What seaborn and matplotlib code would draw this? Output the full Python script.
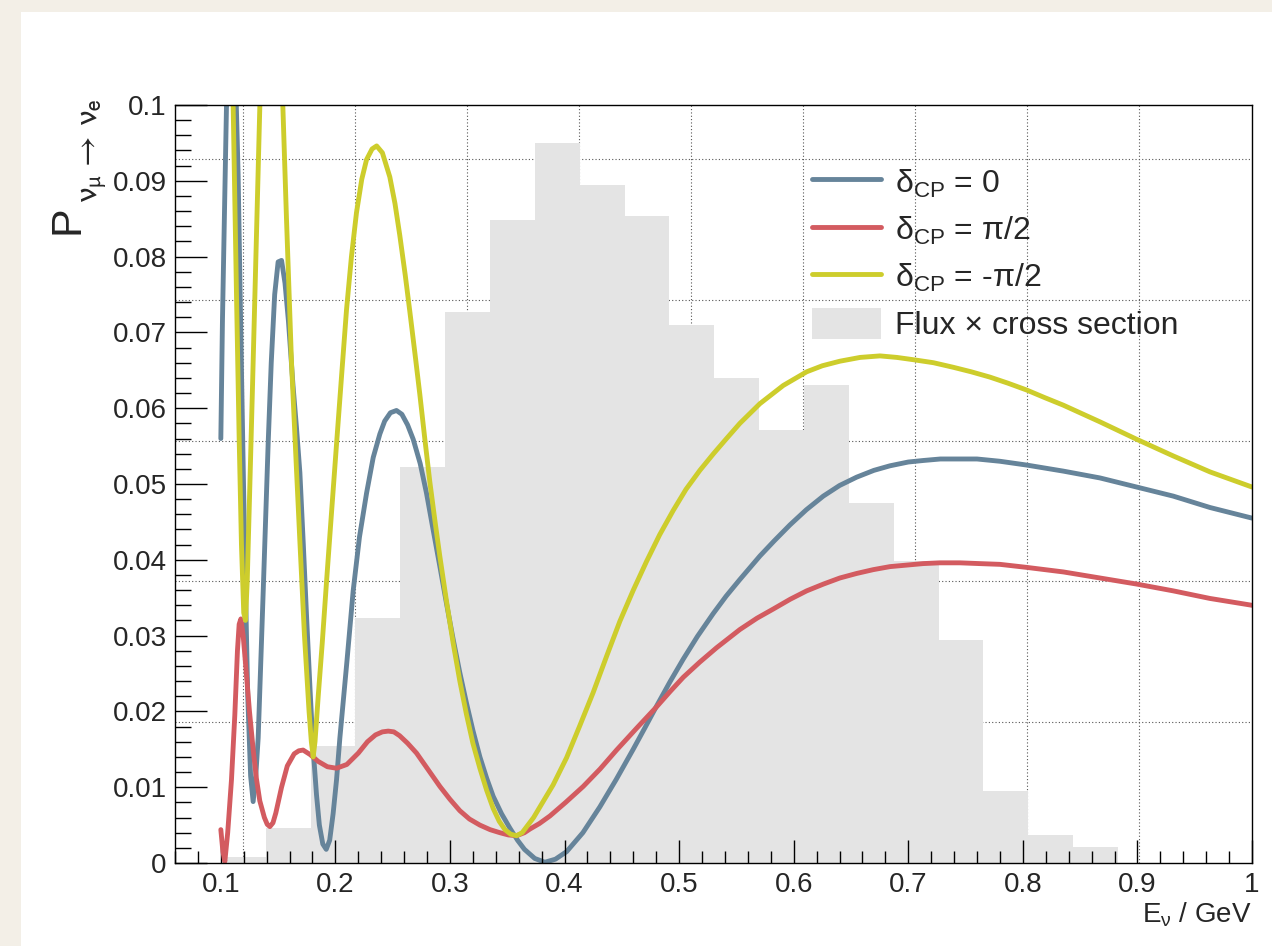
import matplotlib
matplotlib.use("Agg")
import matplotlib.pyplot as plt
import seaborn as sns
from matplotlib.lines import Line2D
from matplotlib.patches import Patch, Rectangle
from matplotlib.ticker import MultipleLocator

# ---------------- data ----------------
flux_edges = [0.1000, 0.13915, 0.1783, 0.21745, 0.2566, 0.29575, 0.3349, 0.37405,
              0.4132, 0.45235, 0.4915, 0.53065, 0.5698, 0.60895, 0.6481, 0.68725,
              0.7264, 0.76555, 0.8047, 0.84385, 0.8830]
flux_values = [0.0008, 0.0046, 0.0154, 0.0323, 0.0522, 0.0727, 0.0848, 0.0950,
               0.0894, 0.0854, 0.0710, 0.0640, 0.0571, 0.0631, 0.0475, 0.0398,
               0.0294, 0.0095, 0.0037, 0.0021]

dcp0_E = [0.1000, 0.1014, 0.1034, 0.1049, 0.1090, 0.1135, 0.1151, 0.1180, 0.1210,
          0.1235, 0.1260, 0.1282, 0.1305, 0.1326, 0.1370, 0.1413, 0.1440, 0.1470,
          0.1500, 0.1530, 0.1560, 0.1590, 0.1630, 0.1660, 0.1690, 0.1720, 0.1750,
          0.1780, 0.1806, 0.1835, 0.1860, 0.1890, 0.1920, 0.1950, 0.1980, 0.2010,
          0.2039, 0.2100, 0.2155, 0.2210, 0.2272, 0.2330, 0.2388, 0.2430, 0.2480,
          0.2533, 0.2580, 0.2630, 0.2679, 0.2740, 0.2795, 0.2850, 0.2912, 0.2970,
          0.3028, 0.3086, 0.3144, 0.3200, 0.3261, 0.3320, 0.3377, 0.3450, 0.3523,
          0.3590, 0.3650, 0.3740, 0.3828, 0.3920, 0.4018, 0.4160, 0.4308, 0.4450,
          0.4599, 0.4700, 0.4803, 0.4920, 0.5036, 0.5160, 0.5297, 0.5410, 0.5530,
          0.5705, 0.5830, 0.5967, 0.6110, 0.6258, 0.6400, 0.6549, 0.6700, 0.6840,
          0.7000, 0.7130, 0.7280, 0.7422, 0.7600, 0.7800, 0.8033, 0.8353, 0.8673,
          0.8993, 0.9313, 0.9633, 1.0000]
dcp0_P = [0.0560, 0.0714, 0.0876, 0.0996, 0.1180, 0.1000, 0.0908, 0.0650, 0.0400,
          0.0220, 0.0115, 0.0081, 0.0115, 0.0165, 0.0359, 0.0553, 0.0660, 0.0750,
          0.0793, 0.0795, 0.0765, 0.0715, 0.0630, 0.0575, 0.0515, 0.0420, 0.0320,
          0.0225, 0.0150, 0.0090, 0.0050, 0.0025, 0.0018, 0.0030, 0.0065, 0.0110,
          0.0165, 0.0265, 0.0359, 0.0430, 0.0488, 0.0535, 0.0566, 0.0583, 0.0594,
          0.0597, 0.0592, 0.0578, 0.0559, 0.0527, 0.0488, 0.0442, 0.0391, 0.0342,
          0.0295, 0.0251, 0.0211, 0.0175, 0.0140, 0.0112, 0.0088, 0.0065, 0.0046,
          0.0030, 0.0018, 0.0006, 0.0001, 0.0005, 0.0015, 0.0040, 0.0074, 0.0110,
          0.0150, 0.0178, 0.0207, 0.0239, 0.0269, 0.0299, 0.0329, 0.0352, 0.0374,
          0.0405, 0.0425, 0.0446, 0.0466, 0.0484, 0.0498, 0.0509, 0.0518, 0.0524,
          0.0529, 0.0531, 0.0533, 0.0533, 0.0533, 0.0530, 0.0525, 0.0517, 0.0508,
          0.0496, 0.0484, 0.0469, 0.0455]

dcpP_E = [0.1000, 0.1018, 0.1035, 0.1060, 0.1093, 0.1122, 0.1145, 0.1160, 0.1175,
          0.1195, 0.1220, 0.1250, 0.1282, 0.1310, 0.1340, 0.1380, 0.1405, 0.1428,
          0.1455, 0.1480, 0.1530, 0.1580, 0.1640, 0.1680, 0.1718, 0.1780, 0.1850,
          0.1930, 0.2010, 0.2100, 0.2200, 0.2280, 0.2350, 0.2410, 0.2461, 0.2510,
          0.2560, 0.2630, 0.2708, 0.2810, 0.2912, 0.3000, 0.3086, 0.3170, 0.3261,
          0.3350, 0.3435, 0.3510, 0.3581, 0.3650, 0.3700, 0.3780, 0.3872, 0.4010,
          0.4163, 0.4310, 0.4454, 0.4630, 0.4803, 0.4920, 0.5036, 0.5180, 0.5327,
          0.5530, 0.5680, 0.5821, 0.5970, 0.6113, 0.6260, 0.6403, 0.6550, 0.6694,
          0.6840, 0.6985, 0.7130, 0.7275, 0.7450, 0.7620, 0.7800, 0.8033, 0.8353,
          0.8673, 0.8993, 0.9313, 0.9633, 1.0000]
dcpP_P = [0.0044, 0.0015, 0.0002, 0.0040, 0.0110, 0.0195, 0.0280, 0.0315, 0.0322,
          0.0300, 0.0255, 0.0200, 0.0150, 0.0112, 0.0082, 0.0060, 0.0051, 0.0048,
          0.0053, 0.0066, 0.0100, 0.0128, 0.0144, 0.0148, 0.0149, 0.0143, 0.0134,
          0.0127, 0.0125, 0.0130, 0.0145, 0.0160, 0.0169, 0.0173, 0.0174, 0.0173,
          0.0168, 0.0158, 0.0145, 0.0123, 0.0101, 0.0084, 0.0069, 0.0058, 0.0050,
          0.0044, 0.0040, 0.0037, 0.0036, 0.0040, 0.0045, 0.0052, 0.0062, 0.0080,
          0.0101, 0.0124, 0.0149, 0.0178, 0.0206, 0.0226, 0.0245, 0.0265, 0.0284,
          0.0308, 0.0323, 0.0335, 0.0348, 0.0359, 0.0368, 0.0376, 0.0382, 0.0387,
          0.0391, 0.0393, 0.0395, 0.0396, 0.0396, 0.0395, 0.0394, 0.0390, 0.0384,
          0.0376, 0.0368, 0.0359, 0.0349, 0.0340]

dcpM_E = [0.1000, 0.1060, 0.1108, 0.1137, 0.1160, 0.1180, 0.1200, 0.1215, 0.1230,
          0.1250, 0.1275, 0.1297, 0.1340, 0.1390, 0.1435, 0.1480, 0.1541, 0.1573,
          0.1617, 0.1660, 0.1690, 0.1730, 0.1770, 0.1790, 0.1806, 0.1822, 0.1850,
          0.1885, 0.1922, 0.1965, 0.2010, 0.2055, 0.2097, 0.2140, 0.2184, 0.2230,
          0.2272, 0.2320, 0.2360, 0.2410, 0.2475, 0.2520, 0.2562, 0.2610, 0.2650,
          0.2700, 0.2737, 0.2780, 0.2824, 0.2870, 0.2912, 0.2970, 0.3028, 0.3086,
          0.3144, 0.3200, 0.3261, 0.3320, 0.3377, 0.3430, 0.3480, 0.3530, 0.3581,
          0.3630, 0.3680, 0.3730, 0.3785, 0.3900, 0.4018, 0.4130, 0.4250, 0.4370,
          0.4483, 0.4600, 0.4716, 0.4830, 0.4948, 0.5060, 0.5181, 0.5300, 0.5414,
          0.5530, 0.5705, 0.5909, 0.6113, 0.6250, 0.6403, 0.6580, 0.6753, 0.6900,
          0.7043, 0.7220, 0.7392, 0.7550, 0.7713, 0.7870, 0.8033, 0.8190, 0.8353,
          0.8673, 0.8993, 0.9313, 0.9633, 1.0000]
dcpM_P = [0.1700, 0.1300, 0.0996, 0.0747, 0.0560, 0.0420, 0.0330, 0.0320, 0.0370,
          0.0480, 0.0620, 0.0747, 0.0996, 0.1250, 0.1350, 0.1250, 0.1000, 0.0850,
          0.0660, 0.0520, 0.0424, 0.0300, 0.0200, 0.0160, 0.0140, 0.0160, 0.0220,
          0.0290, 0.0370, 0.0460, 0.0553, 0.0645, 0.0730, 0.0800, 0.0858, 0.0902,
          0.0928, 0.0942, 0.0946, 0.0937, 0.0905, 0.0870, 0.0828, 0.0775, 0.0727,
          0.0665, 0.0618, 0.0560, 0.0503, 0.0450, 0.0404, 0.0345, 0.0290, 0.0240,
          0.0196, 0.0158, 0.0125, 0.0096, 0.0072, 0.0055, 0.0044, 0.0038, 0.0036,
          0.0040, 0.0050, 0.0060, 0.0074, 0.0103, 0.0139, 0.0180, 0.0225, 0.0274,
          0.0319, 0.0360, 0.0398, 0.0433, 0.0465, 0.0493, 0.0518, 0.0540, 0.0560,
          0.0580, 0.0606, 0.0630, 0.0648, 0.0656, 0.0662, 0.0667, 0.0669, 0.0667,
          0.0664, 0.0660, 0.0654, 0.0648, 0.0641, 0.0633, 0.0624, 0.0614, 0.0604,
          0.0582, 0.0559, 0.0537, 0.0516, 0.0496]

x_ticks = [0.1, 0.2, 0.3, 0.4, 0.5, 0.6, 0.7, 0.8, 0.9, 1.0]
x_ticklabels = ["0.1", "0.2", "0.3", "0.4", "0.5", "0.6", "0.7", "0.8", "0.9", "1"]
y_ticks = [0.0, 0.01, 0.02, 0.03, 0.04, 0.05, 0.06, 0.07, 0.08, 0.09, 0.1]
y_ticklabels = ["0", "0.01", "0.02", "0.03", "0.04", "0.05", "0.06", "0.07",
                "0.08", "0.09", "0.1"]
# grid of the overlaid histogram frame (does not coincide with the axis ticks)
grid_x = [0.1192, 0.2170, 0.3148, 0.4126, 0.5104, 0.6082, 0.7060, 0.8038, 0.9016]
grid_y = [0.01857, 0.03714, 0.05571, 0.07428, 0.09285]

series_labels = [r"$\mathrm{\delta_{CP}}$ = 0",
                 r"$\mathrm{\delta_{CP}}$ = $\mathrm{\pi}$/2",
                 r"$\mathrm{\delta_{CP}}$ = -$\mathrm{\pi}$/2"]
flux_label = "Flux \u00d7 cross section"
ylabel_main = "P"
ylabel_sub = r"$\mathrm{\nu_{\mu}\,{\rightarrow}\,\nu_{e}}$"
xlabel_text = r"E$_{\mathrm{\nu}}$ / GeV"

# ---------------- style ----------------
sns.set_style("ticks")
plt.rcParams["font.family"] = ["Liberation Sans", "DejaVu Sans"]
plt.rcParams["mathtext.fontset"] = "custom"
plt.rcParams["mathtext.rm"] = "Liberation Sans"
plt.rcParams["mathtext.it"] = "Liberation Sans:italic"
plt.rcParams["mathtext.bf"] = "Liberation Sans:bold"
plt.rcParams["mathtext.sf"] = "Liberation Sans"

c_blue = "#66849a"
c_red = "#d35b60"
c_yellow = "#cdcd2c"
c_hist = "#e4e4e4"
lw = 3.5

W, H = 1272, 946
fig = plt.figure(figsize=(W / 100, H / 100), dpi=100, facecolor="#f3efe7")
bg = Rectangle((21 / W, 0), 1 - 21 / W, (H - 12) / H, transform=fig.transFigure,
               facecolor="white", edgecolor="none", zorder=-10)
fig.add_artist(bg)
ax = fig.add_axes([175 / W, (H - 863) / H, (1252 - 175) / W, (863 - 105) / H])
ax.set_facecolor("white")
ax.set_zorder(1)

# grid (behind the histogram)
ax.vlines(grid_x, 0, 0.1, colors="#555555", linestyles=(0, (1, 2)), lw=0.8, zorder=0.5)
ax.hlines(grid_y, 0.06, 1.0, colors="#555555", linestyles=(0, (1, 2)), lw=0.8, zorder=0.5)

centers = [(a + b) / 2 for a, b in zip(flux_edges[:-1], flux_edges[1:])]
sns.histplot(x=centers, weights=flux_values, bins=flux_edges, element="step",
             fill=True, color=c_hist, alpha=1, linewidth=0, edgecolor="none",
             ax=ax, zorder=1)

for E, P, c, z in [(dcp0_E, dcp0_P, c_blue, 2), (dcpP_E, dcpP_P, c_red, 3),
                   (dcpM_E, dcpM_P, c_yellow, 4)]:
    sns.lineplot(x=E, y=P, color=c, lw=lw, ax=ax, estimator=None, sort=False,
                 zorder=z)

ax.set_xlim(0.06, 1.0)
ax.set_ylim(0, 0.1)
ax.set_xticks(x_ticks)
ax.set_xticklabels(x_ticklabels)
ax.set_yticks(y_ticks)
ax.set_yticklabels(y_ticklabels)
ax.xaxis.set_minor_locator(MultipleLocator(0.02))
ax.yaxis.set_minor_locator(MultipleLocator(0.002))
ax.tick_params(which="both", direction="in", top=False, right=False,
               color="black", width=1, labelsize=20, zorder=10)
ax.tick_params(axis="x", which="major", length=16.5, pad=6.5)
ax.tick_params(axis="x", which="minor", length=8.5)
ax.tick_params(axis="y", which="major", length=23, pad=6)
ax.tick_params(axis="y", which="minor", length=11.5)
for s in ax.spines.values():
    s.set_color("black")
    s.set_linewidth(1)
    s.set_zorder(10)
ax.set_axisbelow(False)

ax.set_xlabel(xlabel_text, fontsize=20, loc="right", labelpad=2)
ax.set_ylabel("")
# y title: large "P" with a large (ROOT-style) subscript
fig.text(78 / W, 1 - 234 / H, ylabel_main, fontsize=31, rotation=90,
         rotation_mode="anchor", ha="left", va="baseline")
fig.text(97 / W, 1 - 203 / H, ylabel_sub, fontsize=24, rotation=90,
         rotation_mode="anchor", ha="left", va="baseline",
         math_fontfamily="stixsans")

handles = [Line2D([], [], color=c_blue, lw=lw), Line2D([], [], color=c_red, lw=lw),
           Line2D([], [], color=c_yellow, lw=lw),
           Patch(facecolor=c_hist, edgecolor="none")]
ax.legend(handles, series_labels + [flux_label], loc="upper left",
          bbox_to_anchor=(812 / W, 1 - 166 / H), bbox_transform=fig.transFigure,
          frameon=False, fontsize=23, handlelength=2.16, handleheight=1.15,
          handletextpad=0.44, labelspacing=0.42, borderpad=0, borderaxespad=0)

fig.savefig("out.png", dpi=100, facecolor=fig.get_facecolor())
